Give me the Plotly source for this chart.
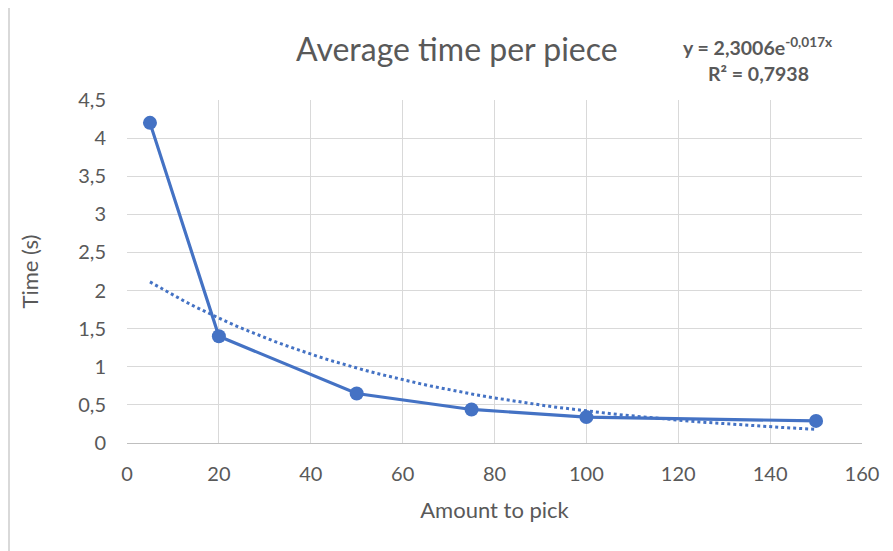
import numpy as np
import plotly.graph_objects as go

amount = [5, 20, 50, 75, 100, 150]
time_s = [4.2, 1.4, 0.65, 0.44, 0.34, 0.29]

# Exponential trendline as shown on the chart: y = 2,3006 e^(-0,017x)
trend_a = 2.3006
trend_b = -0.017
trend_x = np.linspace(min(amount), max(amount), 60)
trend_y = trend_a * np.exp(trend_b * trend_x)

x_ticks = [0, 20, 40, 60, 80, 100, 120, 140, 160]
y_ticks = [0, 0.5, 1, 1.5, 2, 2.5, 3, 3.5, 4, 4.5]
y_tick_labels = ["0", "0,5", "1", "1,5", "2", "2,5", "3", "3,5", "4", "4,5"]

blue = "#4472C4"
grey_text = "#595959"
grid = "#d9d9d9"
font_family = "Lato, 'Open Sans', sans-serif"

W, H = 893, 551
OFF = 8  # page body margin
# plot area in window pixels
L, R, T, B = 127, 862, 100, 443

fig = go.Figure()
fig.add_trace(go.Scatter(x=trend_x, y=trend_y, mode="lines",
                         line=dict(color=blue, width=3, dash="dot"),
                         hoverinfo="skip", showlegend=False))
fig.add_trace(go.Scatter(x=amount, y=time_s, mode="lines+markers",
                         line=dict(color=blue, width=3.2),
                         marker=dict(color=blue, size=14),
                         showlegend=False))

def px(x):
    return (x - L) / (R - L)
def py(y):
    return (B - y) / (B - T)

fig.update_layout(
    width=W, height=H,
    margin=dict(l=L - OFF, r=W - (R - OFF), t=T - OFF, b=H - (B - OFF)),
    paper_bgcolor="white", plot_bgcolor="white",
    font=dict(family=font_family, color=grey_text, size=17),
    xaxis=dict(range=[0, 160], tickvals=x_ticks, showgrid=True, gridcolor=grid,
               gridwidth=1, zeroline=False, showline=True, linecolor="#bfbfbf",
               linewidth=1, ticks="", ticklabelstandoff=13,
               tickfont=dict(size=20, color=grey_text),
               title=dict(text="Amount to pick", font=dict(size=22, color=grey_text), standoff=18)),
    yaxis=dict(range=[0, 4.5], tickvals=y_ticks, ticktext=y_tick_labels,
               showgrid=True, gridcolor=grid, gridwidth=1, zeroline=False,
               showline=False, ticks="", ticklabelstandoff=20,
               tickfont=dict(size=20, color=grey_text),
               title=dict(text="Time (s)", font=dict(size=22, color=grey_text), standoff=33)),
    annotations=[
        dict(text="Average time per piece", x=px(457), y=py(48), xref="paper", yref="paper",
             xanchor="center", yanchor="middle", showarrow=False,
             font=dict(size=32, color=grey_text)),
        dict(text="<b>y = 2,3006e<sup>-0,017x</sup></b>", x=px(758), y=py(46),
             xref="paper", yref="paper", xanchor="center", yanchor="middle",
             showarrow=False, font=dict(size=19.5, color=grey_text)),
        dict(text="<b>R² = 0,7938</b>", x=px(758), y=py(73),
             xref="paper", yref="paper", xanchor="center", yanchor="middle",
             showarrow=False, font=dict(size=19.5, color=grey_text)),
    ],
)

fig.add_shape(type="line", xref="paper", yref="paper", x0=px(9), x1=px(900), y0=py(7), y1=py(7),
              line=dict(color=grid, width=2))
fig.add_shape(type="line", xref="paper", yref="paper", x0=px(9), x1=px(9), y0=py(560), y1=py(7),
              line=dict(color=grid, width=2))

fig.write_html("out.html")
